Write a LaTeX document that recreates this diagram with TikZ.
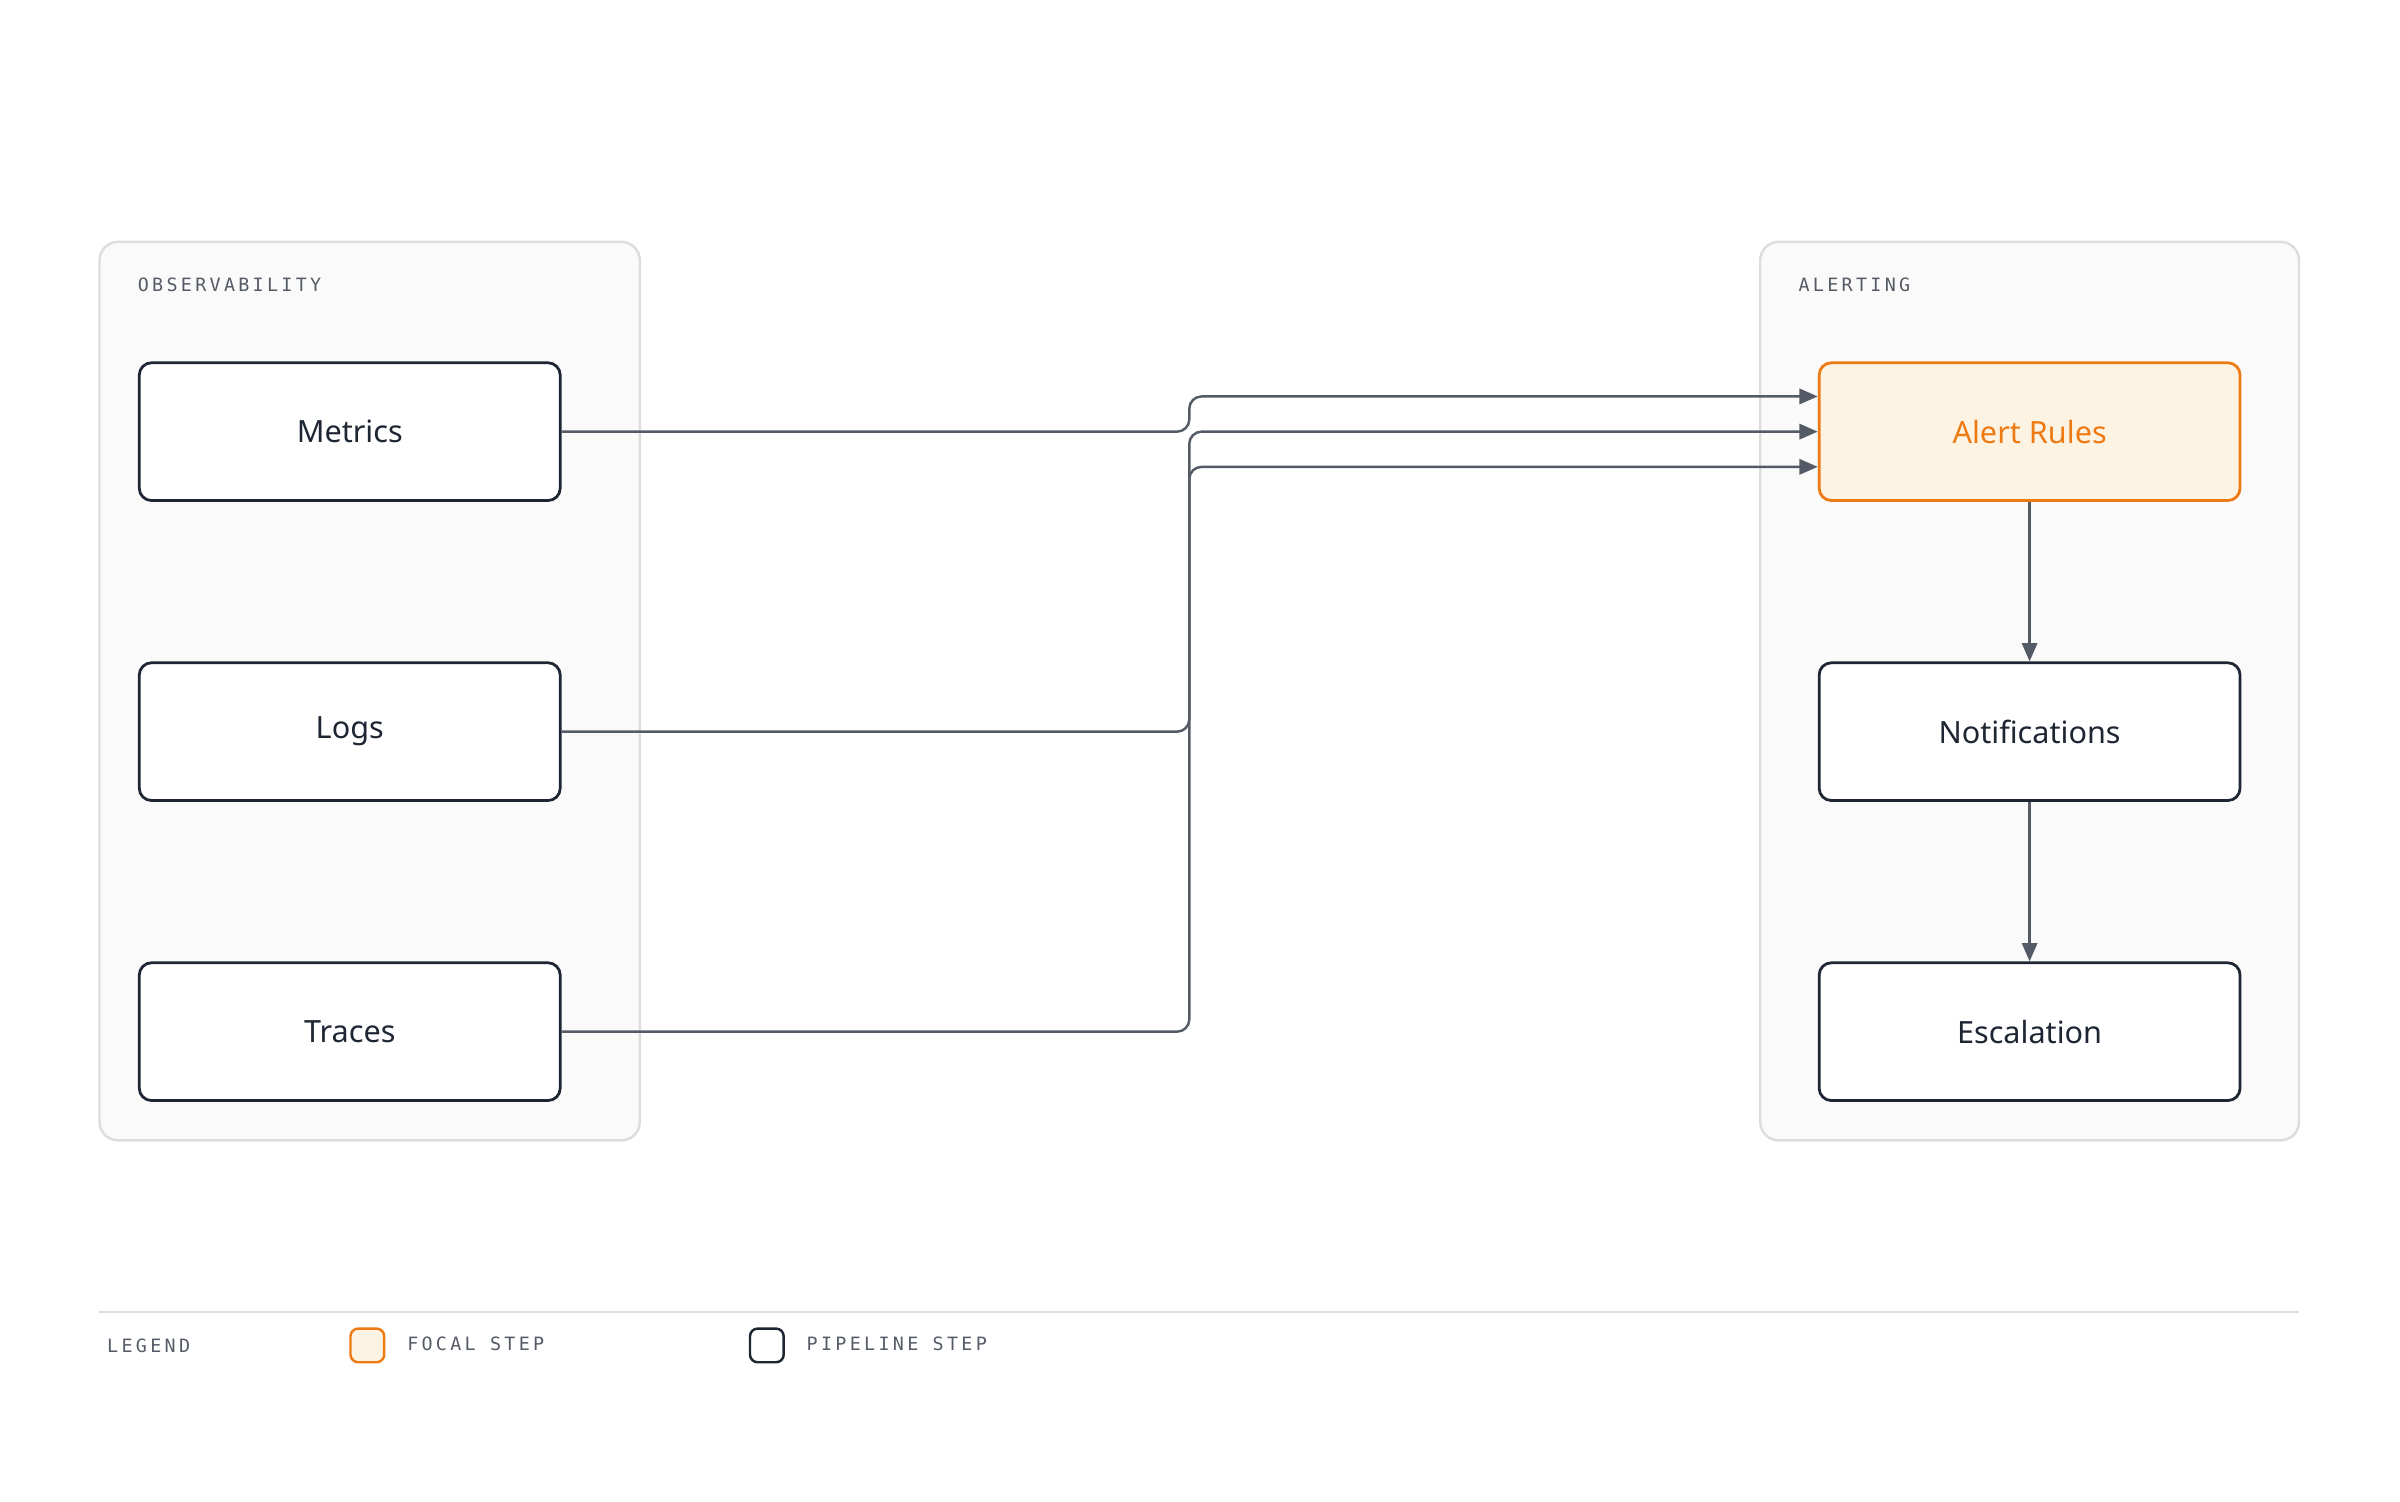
\documentclass[tikz,border=0pt]{standalone}
\usepackage{fontspec}
\setmainfont{Noto Sans}
\newfontfamily\monof[LetterSpace=18]{DejaVu Sans Mono}
\usetikzlibrary{calc,arrows.meta}
\definecolor{ink}{HTML}{1E2533}
\definecolor{edgec}{HTML}{555B66}
\definecolor{grp}{HTML}{FAFAFA}
\definecolor{grpl}{HTML}{DDDDDD}
\definecolor{orng}{HTML}{EE7A14}
\definecolor{ofill}{HTML}{FDF3E3}
\definecolor{lbl}{HTML}{555B66}
\begin{document}
\begin{tikzpicture}[x=0.5pt,y=-0.5pt,
  group/.style={draw=grpl,fill=grp,line width=0.8pt,rounded corners=6pt},
  box/.style={draw=ink,fill=white,line width=0.9pt,rounded corners=4pt,minimum width=137.5pt,minimum height=45pt,font=\fontsize{10}{12}\selectfont\bfseries,text=ink},
  focal/.style={box,draw=orng,fill=ofill,text=orng},
  edge/.style={draw=edgec,line width=0.8pt,rounded corners=4pt,-{Triangle[length=6pt,width=5pt]}},
  glabel/.style={anchor=west,font=\monof\fontsize{6}{7}\selectfont,text=lbl}]
\useasboundingbox (0,0) rectangle (1568,981);
\node[group,minimum width=176.5pt,minimum height=293.5pt] (g1) at (241.5,451.5) {};
\node[group,minimum width=176pt,minimum height=293.5pt] (g2) at (1326,451.5) {};
\node[glabel] (l1) at (83,186) {OBSERVABILITY};
\node[glabel] (l2) at (1168,186) {ALERTING};
\node[box] (m) at (228.5,282) {Metrics};
\node[box] (lo) at (228.5,478) {Logs};
\node[box] (t) at (228.5,674) {Traces};
\node[focal] (ar) at (1326,282) {Alert Rules};
\node[box] (n) at (1326,478) {Notifications};
\node[box] (e) at (1326,674) {Escalation};
\draw[edge] (m.east) -- (777,282) -- (777,259) -- ($(ar.west)+(0,-23)$);
\draw[edge] (lo.east) -- (777,478) -- (777,282) -- (ar.west);
\draw[edge] (t.east) -- (777,674) -- (777,305) -- ($(ar.west)+(0,23)$);
\draw[edge,rounded corners=0pt] (ar.south) -- (n.north);
\draw[edge,rounded corners=0pt] (n.south) -- (e.north);
\coordinate (la) at (65,857); \coordinate (lb) at (1502,857);
\draw[grpl,line width=0.8pt] (la) -- (lb);
\node[glabel] (lg) at (63,879) {LEGEND};
\node[draw=orng,fill=ofill,line width=0.8pt,rounded corners=2.5pt,minimum size=11pt,inner sep=0pt] (s1) at (240,879) {};
\node[glabel,anchor=west] (f1) at (259,878) {FOCAL STEP};
\node[draw=ink,fill=white,line width=0.8pt,rounded corners=2.5pt,minimum size=11pt,inner sep=0pt] (s2) at (501,879) {};
\node[glabel,anchor=west] (f2) at (520,878) {PIPELINE STEP};
\end{tikzpicture}
\end{document}
